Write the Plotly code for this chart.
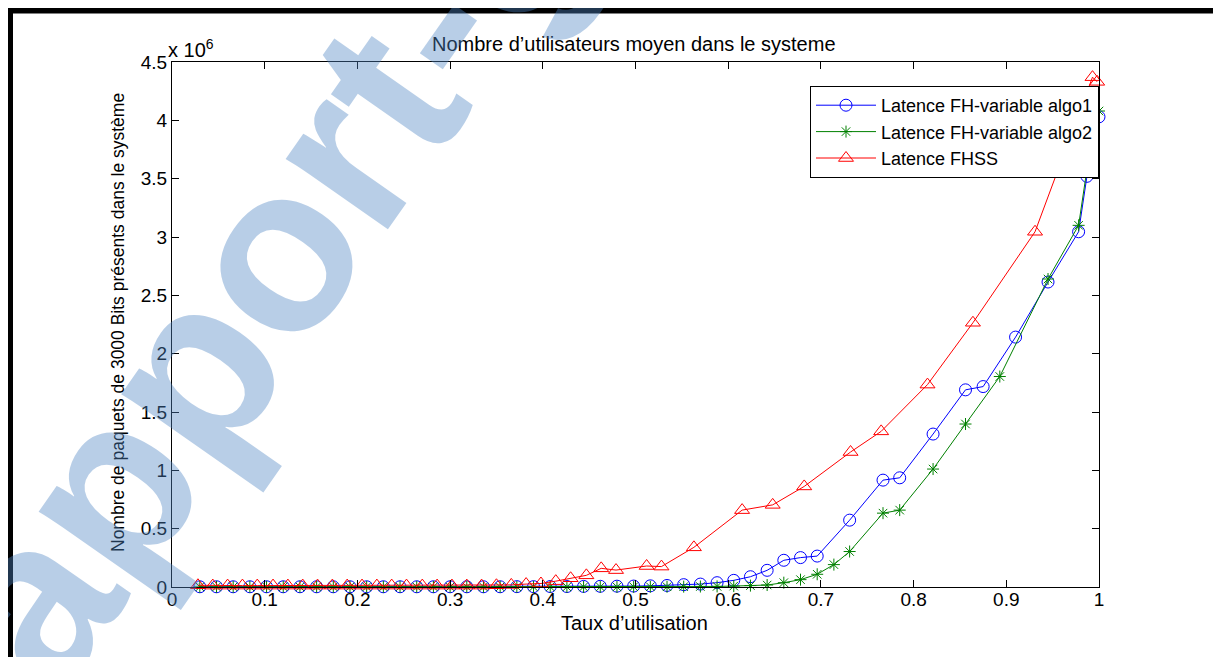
import plotly.graph_objects as go

# ---------------- data (values in units of 1e6) ----------------
x_algo1 = [0.030, 0.048, 0.066, 0.084, 0.102, 0.120, 0.138, 0.156, 0.174, 0.192,
           0.210, 0.228, 0.246, 0.264, 0.282, 0.300, 0.318, 0.336, 0.354, 0.372,
           0.390, 0.408, 0.426, 0.444, 0.462, 0.480, 0.498, 0.516, 0.534, 0.552,
           0.570, 0.588, 0.606, 0.624, 0.642, 0.660, 0.678, 0.696, 0.731, 0.767,
           0.785, 0.821, 0.856, 0.875, 0.910, 0.945, 0.978, 0.987, 1.000]
y_algo1 = [0.002, 0.002, 0.002, 0.002, 0.002, 0.002, 0.002, 0.002, 0.002, 0.002,
           0.002, 0.002, 0.002, 0.002, 0.002, 0.002, 0.002, 0.002, 0.002, 0.003,
           0.003, 0.004, 0.004, 0.005, 0.006, 0.007, 0.008, 0.010, 0.013, 0.020,
           0.025, 0.037, 0.057, 0.088, 0.143, 0.229, 0.252, 0.265, 0.573, 0.916,
           0.936, 1.311, 1.690, 1.718, 2.142, 2.614, 3.045, 3.520, 4.030]

x_algo2 = [0.030, 0.048, 0.066, 0.084, 0.102, 0.120, 0.138, 0.156, 0.174, 0.192,
           0.210, 0.228, 0.246, 0.264, 0.282, 0.300, 0.318, 0.336, 0.354, 0.372,
           0.390, 0.408, 0.426, 0.444, 0.462, 0.480, 0.498, 0.516, 0.534, 0.552,
           0.570, 0.588, 0.606, 0.624, 0.642, 0.660, 0.678, 0.696, 0.714, 0.731,
           0.767, 0.785, 0.821, 0.856, 0.893, 0.945, 0.978, 0.987, 1.000]
y_algo2 = [0.001, 0.001, 0.001, 0.001, 0.001, 0.001, 0.001, 0.001, 0.001, 0.001,
           0.001, 0.001, 0.001, 0.001, 0.001, 0.001, 0.001, 0.001, 0.001, 0.001,
           0.001, 0.001, 0.001, 0.001, 0.001, 0.001, 0.002, 0.002, 0.002, 0.003,
           0.004, 0.005, 0.008, 0.012, 0.017, 0.037, 0.063, 0.109, 0.192, 0.304,
           0.633, 0.659, 1.011, 1.397, 1.804, 2.640, 3.100, 3.580, 4.080]

x_fhss = [0.028, 0.044, 0.060, 0.076, 0.092, 0.109, 0.125, 0.141, 0.157, 0.173,
          0.189, 0.205, 0.221, 0.237, 0.253, 0.270, 0.286, 0.302, 0.318, 0.334,
          0.350, 0.366, 0.382, 0.398, 0.414, 0.430, 0.447, 0.463, 0.479, 0.512,
          0.528, 0.563, 0.615, 0.648, 0.682, 0.732, 0.765, 0.815, 0.864, 0.931,
          0.993, 0.998]
y_fhss = [0.015, 0.012, 0.012, 0.012, 0.012, 0.012, 0.012, 0.012, 0.012, 0.012,
          0.012, 0.012, 0.012, 0.012, 0.012, 0.012, 0.012, 0.012, 0.012, 0.012,
          0.015, 0.018, 0.025, 0.030, 0.050, 0.075, 0.100, 0.160, 0.145, 0.180,
          0.175, 0.340, 0.659, 0.704, 0.862, 1.157, 1.334, 1.735, 2.265, 3.045,
          4.370, 4.330]

series_names = ["Latence FH-variable algo1", "Latence FH-variable algo2", "Latence FHSS"]
x_ticks = [0, 0.1, 0.2, 0.3, 0.4, 0.5, 0.6, 0.7, 0.8, 0.9, 1]
y_ticks = [0, 0.5, 1, 1.5, 2, 2.5, 3, 3.5, 4, 4.5]

title_text = "Nombre d’utilisateurs moyen dans le systeme"
x_title = "Taux d’utilisation"
y_title = "Nombre de paquets de 3000 Bits présents dans le système"
watermark = "rapport-gratuit"

# ---------------- layout geometry (page pixels; the page body has an 8px margin) ----------------
OFF = 8
W, H = 1221 - OFF, 657 - OFF
L, R, T, B = 172, 1099, 62, 587          # plot area in page pixels
FONT = "Liberation Sans, Arial, sans-serif"


def px2x(px):
    return (px - L) / (R - L)


def py2y(py):
    return (B - py) / (B - T)


fig = go.Figure()
fig.add_trace(go.Scatter(x=x_algo1, y=y_algo1, name=series_names[0], mode="lines+markers",
                         line=dict(color="#0000ff", width=1),
                         marker=dict(symbol="circle-open", size=12, color="#0000ff",
                                     line=dict(width=1)),
                         cliponaxis=False))
fig.add_trace(go.Scatter(x=x_algo2, y=y_algo2, name=series_names[1], mode="lines+markers",
                         line=dict(color="#008000", width=1),
                         marker=dict(symbol="asterisk-open", size=10, color="#008000",
                                     line=dict(width=1, color="#008000")),
                         cliponaxis=False))
fig.add_trace(go.Scatter(x=x_fhss, y=y_fhss, name=series_names[2], mode="lines+markers",
                         line=dict(color="#ff0000", width=1),
                         marker=dict(symbol="triangle-up-open", size=13, color="#ff0000",
                                     line=dict(width=1)),
                         cliponaxis=False))

axis_common = dict(showline=True, linecolor="black", linewidth=1, mirror="ticks",
                   ticks="inside", ticklen=7, tickcolor="black", showgrid=False,
                   zeroline=False, tickfont=dict(family=FONT, size=19, color="black"))
fig.update_xaxes(range=[0, 1], tickvals=x_ticks, ticktext=[f"{v:g}" for v in x_ticks],
                 ticklabelstandoff=-5, **axis_common)
fig.update_yaxes(range=[0, 4.5], tickvals=y_ticks, ticktext=[f"{v:g}" for v in y_ticks],
                 **axis_common)

annotations = [
    dict(text=title_text, x=px2x(634), y=py2y(44), xref="paper", yref="paper",
         showarrow=False, xanchor="center", yanchor="middle",
         font=dict(family=FONT, size=20, color="black")),
    dict(text=x_title, x=px2x(634), y=py2y(623), xref="paper", yref="paper",
         showarrow=False, xanchor="center", yanchor="middle",
         font=dict(family=FONT, size=20, color="black")),
    dict(text=y_title, x=px2x(118), y=py2y(323), xref="paper", yref="paper",
         showarrow=False, xanchor="center", yanchor="middle", textangle=-90,
         font=dict(family=FONT, size=17.5, color="black")),
    dict(text="x 10<sup>6</sup>", x=px2x(166), y=py2y(63), xref="paper", yref="paper",
         showarrow=False, xanchor="left", yanchor="bottom",
         font=dict(family=FONT, size=20, color="black")),
    dict(text="<b>" + watermark + "</b>", x=px2x(405), y=py2y(62), xref="paper", yref="paper",
         showarrow=False, xanchor="center", yanchor="middle", textangle=-55,
         font=dict(family=FONT, size=235, color="rgb(80,135,197)"), opacity=0.4),
]

shapes = [
    dict(type="rect", xref="paper", yref="paper", x0=px2x(6), x1=px2x(13),
         y0=py2y(700), y1=py2y(7), fillcolor="black", line=dict(width=0)),
    dict(type="rect", xref="paper", yref="paper", x0=px2x(6), x1=px2x(1225),
         y0=py2y(13.5), y1=py2y(7), fillcolor="black", line=dict(width=0)),
    dict(type="rect", xref="paper", yref="paper", x0=px2x(1213), x1=px2x(1225),
         y0=py2y(700), y1=py2y(7), fillcolor="black", line=dict(width=0)),
]

fig.update_layout(
    width=W, height=H,
    margin=dict(l=L - OFF, r=(W + OFF) - R, t=T - OFF, b=(H + OFF) - B),
    paper_bgcolor="white", plot_bgcolor="white",
    showlegend=True,
    legend=dict(x=1, xanchor="right", y=py2y(86), yanchor="top",
                bgcolor="white", bordercolor="black", borderwidth=1,
                font=dict(family=FONT, size=18, color="black"),
                itemwidth=60, tracegroupgap=0),
    annotations=annotations,
    shapes=shapes,
)

fig.write_html("out.html")
